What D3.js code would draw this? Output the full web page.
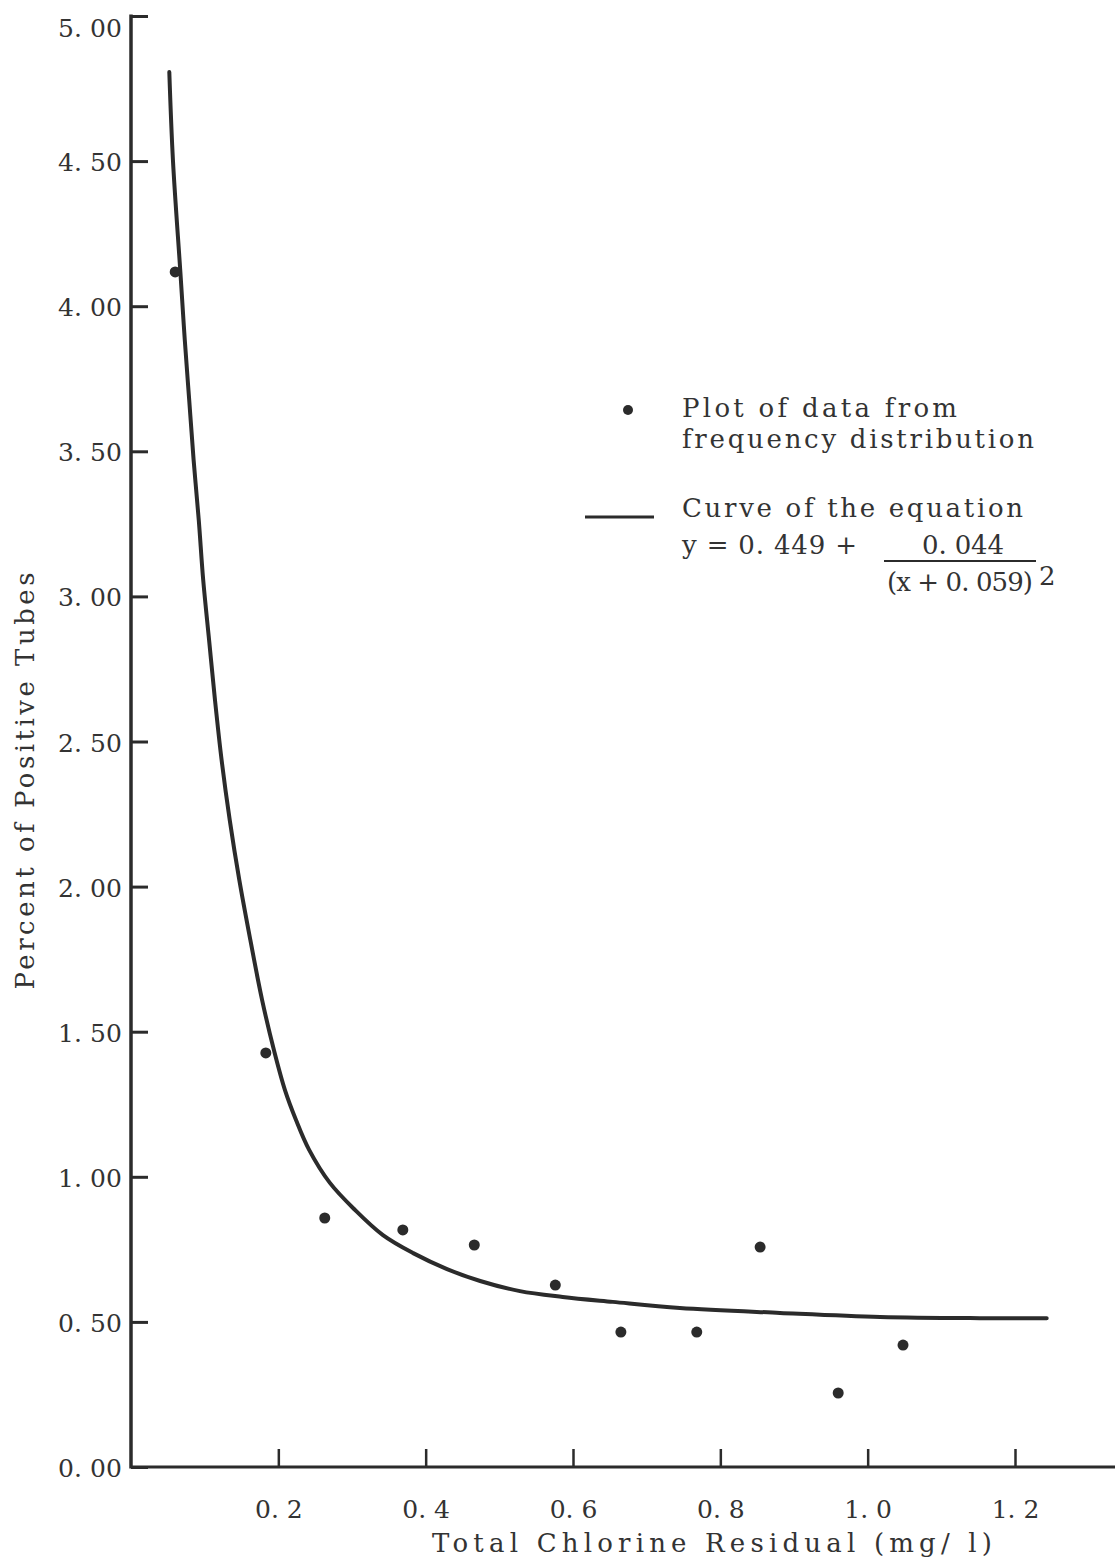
<!DOCTYPE html>
<html>
<head>
<meta charset="utf-8">
<script src="https://cdn.jsdelivr.net/npm/d3@7"></script>
<style>
  body { margin: 0; background: #fff; }
  svg { display: block; }
  text { font-family: "DejaVu Serif", serif; fill: #333; }
</style>
</head>
<body>
<div id="chart"></div>
<script>
// observed points (from frequency distribution)
const pointX = [0.060, 0.183, 0.263, 0.369, 0.466, 0.576, 0.665, 0.768, 0.854, 0.960, 1.048];
const pointY = [4.118, 1.427, 0.858, 0.817, 0.765, 0.627, 0.465, 0.465, 0.758, 0.255, 0.420];

// hand-drawn fitted curve
const curveX = [0.052, 0.057, 0.067, 0.073, 0.079, 0.085, 0.092, 0.098, 0.106, 0.114, 0.123, 0.134,
                0.147, 0.162, 0.178, 0.194, 0.209, 0.224, 0.242, 0.270, 0.304, 0.342, 0.383, 0.429,
                0.474, 0.528, 0.586, 0.654, 0.745, 0.881, 1.017, 1.152, 1.243];
const curveY = [4.807, 4.500, 4.118, 3.884, 3.677, 3.470, 3.263, 3.057, 2.850, 2.643, 2.436, 2.230,
                2.023, 1.816, 1.609, 1.437, 1.299, 1.196, 1.092, 0.979, 0.886, 0.799, 0.737, 0.682,
                0.641, 0.606, 0.586, 0.569, 0.548, 0.531, 0.517, 0.513, 0.513];

const yTicks = [0, 0.5, 1, 1.5, 2, 2.5, 3, 3.5, 4, 4.5, 5];
const xTicks = [0.2, 0.4, 0.6, 0.8, 1.0, 1.2];

const W = 1115, H = 1566;
const ink = "#2b2b2b";
const fs = 26;

const svg = d3.select("#chart").append("svg")
    .attr("width", W).attr("height", H)
    .attr("viewBox", `0 0 ${W} ${H}`);

const x = d3.scaleLinear().domain([0, 1.2]).range([131, 1015]);
const y = d3.scaleLinear().domain([0, 5]).range([1467, 16]);

const typed = s => s.replace(".", ". ");

// y axis, ticks pointing inward
const gy = svg.append("g").attr("transform", `translate(${x(0)},0)`)
    .call(d3.axisLeft(y).tickValues(yTicks).tickSize(-17).tickSizeOuter(0).tickPadding(9)
        .tickFormat(d => typed(d3.format(".2f")(d))));
gy.select(".domain").remove();
gy.selectAll(".tick line").attr("stroke", ink).attr("stroke-width", 3);
gy.selectAll(".tick text").attr("font-size", 25).attr("dy", "0.38em")
    .attr("textLength", 64).attr("lengthAdjust", "spacing").style("fill", "#333");
gy.selectAll(".tick").filter(d => d === 5).select("text").attr("dy", "0.8em");

// x axis, ticks pointing up
const gx = svg.append("g").attr("transform", `translate(0,${y(0)})`)
    .call(d3.axisBottom(x).tickValues(xTicks).tickSize(-18).tickSizeOuter(0).tickPadding(33)
        .tickFormat(d => typed(d3.format(".1f")(d))));
gx.select(".domain").remove();
gx.selectAll(".tick line").attr("stroke", ink).attr("stroke-width", 2.5);
gx.selectAll(".tick text").attr("font-size", 25).style("fill", "#333");

// axis lines
svg.append("line").attr("x1", x(0)).attr("x2", x(0)).attr("y1", y(5) - 1.5).attr("y2", y(0) + 1.5)
    .attr("stroke", ink).attr("stroke-width", 3.5);
svg.append("line").attr("x1", x(0)).attr("x2", W).attr("y1", y(0)).attr("y2", y(0))
    .attr("stroke", ink).attr("stroke-width", 3);

// axis titles
svg.append("text").attr("x", 712).attr("y", 1552).attr("text-anchor", "middle")
    .attr("font-size", fs).attr("textLength", 560).attr("lengthAdjust", "spacing")
    .text("Total Chlorine Residual (mg/ l)");
svg.append("text").attr("transform", "translate(34,781) rotate(-90)").attr("text-anchor", "middle")
    .attr("font-size", fs).attr("textLength", 417).attr("lengthAdjust", "spacing")
    .text("Percent of Positive Tubes");

// curve
const curveData = curveX.map((v, i) => [v, curveY[i]]);
svg.append("path").datum(curveData)
    .attr("d", d3.line().x(d => x(d[0])).y(d => y(d[1])).curve(d3.curveCatmullRom.alpha(0.5)))
    .attr("fill", "none").attr("stroke", ink).attr("stroke-width", 4).attr("stroke-linecap", "round");

// points
svg.append("g").selectAll("circle")
    .data(pointX.map((v, i) => [v, pointY[i]]))
    .join("circle")
    .attr("cx", d => x(d[0])).attr("cy", d => y(d[1])).attr("r", 5.5)
    .attr("fill", ink);

// legend
const lg = svg.append("g");
lg.append("circle").attr("cx", 628).attr("cy", 410).attr("r", 5).attr("fill", ink);
lg.append("text").attr("x", 682).attr("y", 417).attr("font-size", fs)
    .attr("textLength", 275).attr("lengthAdjust", "spacing").text("Plot of data from");
lg.append("text").attr("x", 682).attr("y", 448).attr("font-size", fs)
    .attr("textLength", 352).attr("lengthAdjust", "spacing").text("frequency distribution");
lg.append("line").attr("x1", 585).attr("x2", 654).attr("y1", 517).attr("y2", 517)
    .attr("stroke", ink).attr("stroke-width", 3);
lg.append("text").attr("x", 682).attr("y", 517).attr("font-size", fs)
    .attr("textLength", 341).attr("lengthAdjust", "spacing").text("Curve of the equation");
lg.append("text").attr("x", 682).attr("y", 554).attr("font-size", fs)
    .attr("textLength", 175).attr("lengthAdjust", "spacing").text("y = 0. 449 +");
lg.append("text").attr("x", 963).attr("y", 554).attr("font-size", fs).attr("text-anchor", "middle")
    .attr("textLength", 82).attr("lengthAdjust", "spacing").text("0. 044");
lg.append("line").attr("x1", 884).attr("x2", 1036).attr("y1", 561).attr("y2", 561)
    .attr("stroke", ink).attr("stroke-width", 2);
lg.append("text").attr("x", 887).attr("y", 591).attr("font-size", fs)
    .attr("textLength", 146).attr("lengthAdjust", "spacing").text("(x + 0. 059)");
lg.append("text").attr("x", 1039).attr("y", 585).attr("font-size", fs).text("2");
</script>
</body>
</html>
